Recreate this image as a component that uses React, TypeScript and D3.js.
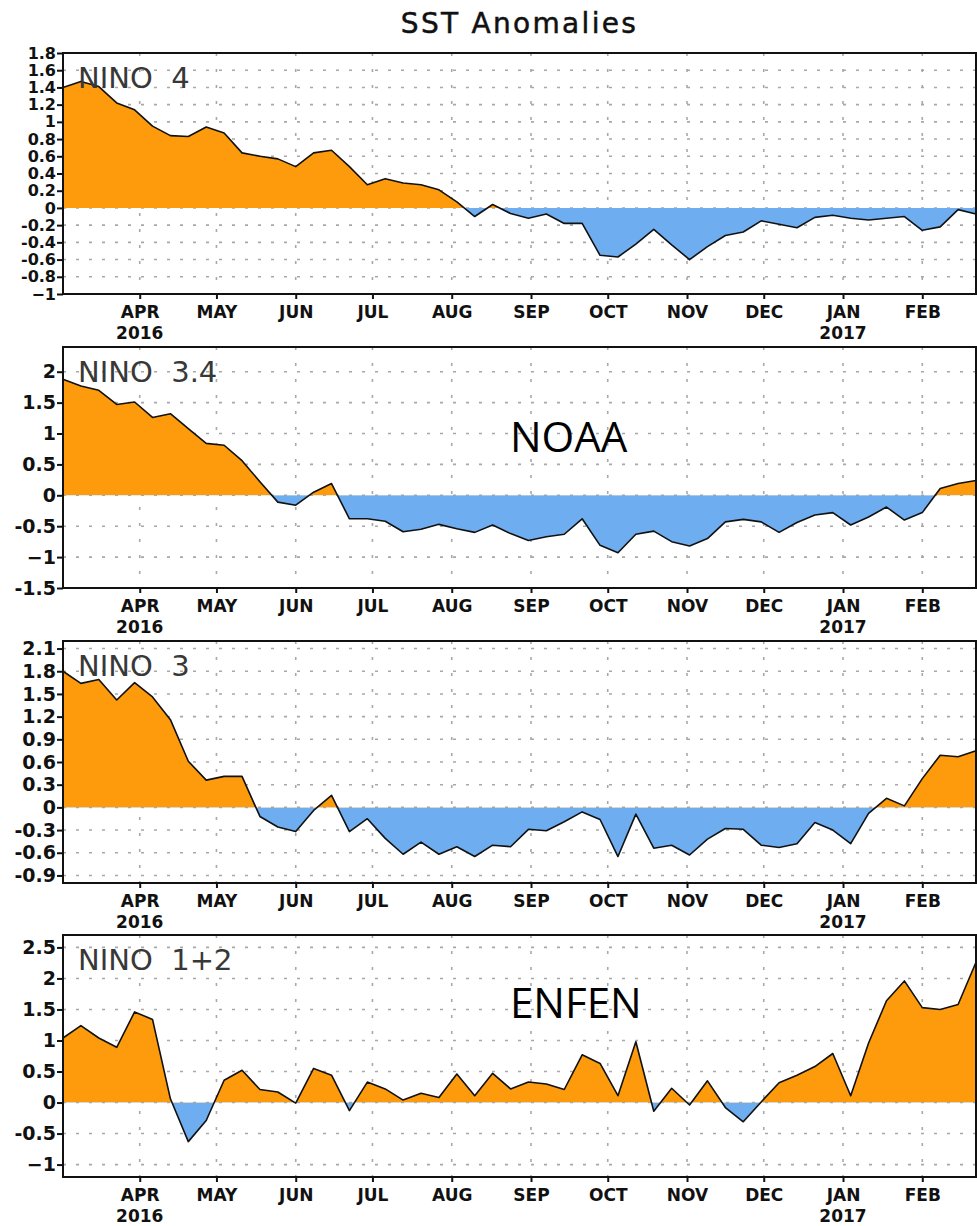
import React from "react";
import * as d3 from "d3";

// weekly SST anomalies (centred on Wednesdays), Mar 2 2016 -> Feb 22 2017
const firstWeek = new Date(2016, 2, 2);
const lastWeek = new Date(2017, 1, 22);

const nino4 = [
  1.4, 1.47, 1.41, 1.22, 1.14, 0.95, 0.84, 0.83, 0.94, 0.87,
  0.64, 0.6, 0.57, 0.48, 0.64, 0.67, 0.48, 0.27, 0.34, 0.29,
  0.27, 0.21, 0.07, -0.1, 0.04, -0.065, -0.12, -0.07, -0.18, -0.18,
  -0.55, -0.57, -0.42, -0.25, -0.43, -0.6, -0.45, -0.32, -0.28, -0.15,
  -0.19, -0.23, -0.11, -0.085, -0.12, -0.14, -0.12, -0.1, -0.26, -0.22,
  -0.02, -0.07,
];
const nino34 = [
  1.88, 1.77, 1.7, 1.47, 1.51, 1.26, 1.32, 1.08, 0.84, 0.81,
  0.56, 0.22, -0.11, -0.16, 0.05, 0.19, -0.38, -0.38, -0.42, -0.59,
  -0.55, -0.47, -0.54, -0.6, -0.48, -0.62, -0.73, -0.67, -0.63, -0.38,
  -0.81, -0.93, -0.63, -0.58, -0.75, -0.82, -0.7, -0.43, -0.39, -0.43,
  -0.6, -0.44, -0.32, -0.28, -0.48, -0.35, -0.19, -0.4, -0.28, 0.11,
  0.19, 0.24,
];
const nino3 = [
  1.8, 1.64, 1.69, 1.42, 1.65, 1.46, 1.16, 0.61, 0.36, 0.41,
  0.41, -0.12, -0.26, -0.32, -0.04, 0.16, -0.32, -0.15, -0.41, -0.62,
  -0.46, -0.62, -0.52, -0.65, -0.5, -0.52, -0.29, -0.31, -0.19, -0.06,
  -0.16, -0.65, -0.09, -0.54, -0.5, -0.63, -0.42, -0.28, -0.29, -0.5,
  -0.53, -0.48, -0.2, -0.3, -0.48, -0.08, 0.12, 0.02, 0.38, 0.69,
  0.67, 0.75,
];
const nino12 = [
  1.04, 1.24, 1.04, 0.89, 1.46, 1.34, 0.06, -0.63, -0.29, 0.36,
  0.52, 0.21, 0.17, -0.01, 0.55, 0.44, -0.13, 0.33, 0.22, 0.04,
  0.15, 0.08, 0.46, 0.11, 0.47, 0.22, 0.33, 0.3, 0.21, 0.77,
  0.63, 0.11, 0.98, -0.14, 0.23, -0.04, 0.35, -0.08, -0.31, 0.01,
  0.32, 0.44, 0.58, 0.79, 0.11, 0.96, 1.64, 1.96, 1.53, 1.5,
  1.58, 2.26,
];

const nino4Ticks = [1.8, 1.6, 1.4, 1.2, 1, 0.8, 0.6, 0.4, 0.2, 0, -0.2, -0.4, -0.6, -0.8, -1];
const nino4Labels = ["1.8", "1.6", "1.4", "1.2", "1", "0.8", "0.6", "0.4", "0.2", "0", "-0.2", "-0.4", "-0.6", "-0.8", "\u22121"];
const nino34Ticks = [2, 1.5, 1, 0.5, 0, -0.5, -1, -1.5];
const nino34Labels = ["2", "1.5", "1", "0.5", "0", "-0.5", "\u22121", "-1.5"];
const nino3Ticks = [2.1, 1.8, 1.5, 1.2, 0.9, 0.6, 0.3, 0, -0.3, -0.6, -0.9];
const nino3Labels = ["2.1", "1.8", "1.5", "1.2", "0.9", "0.6", "0.3", "0", "-0.3", "-0.6", "-0.9"];
const nino12Ticks = [2.5, 2, 1.5, 1, 0.5, 0, -0.5, -1];
const nino12Labels = ["2.5", "2", "1.5", "1", "0.5", "0", "-0.5", "\u22121"];

const monthLabels = ["APR", "MAY", "JUN", "JUL", "AUG", "SEP", "OCT", "NOV", "DEC", "JAN", "FEB"];
const yearLabels = [
  { month: "APR", year: "2016" },
  { month: "JAN", year: "2017" },
];

const panels = [
  { id: "n4", name: "NINO  4", values: nino4, domain: [-1, 1.8], ticks: nino4Ticks, labels: nino4Labels, top: 53, bottom: 294, tickFont: 16, stamp: "" },
  { id: "n34", name: "NINO  3.4", values: nino34, domain: [-1.5, 2.4], ticks: nino34Ticks, labels: nino34Labels, top: 347, bottom: 588, tickFont: 19, stamp: "NOAA" },
  { id: "n3", name: "NINO  3", values: nino3, domain: [-1, 2.2], ticks: nino3Ticks, labels: nino3Labels, top: 641, bottom: 883, tickFont: 19, stamp: "" },
  { id: "n12", name: "NINO  1+2", values: nino12, domain: [-1.2, 2.7], ticks: nino12Ticks, labels: nino12Labels, top: 935, bottom: 1177, tickFont: 19, stamp: "ENFEN" },
];

const ORANGE = "#fe9b0c";
const BLUE = "#6dadf0";

const SstAnomalies = () => {
  const svgRef = React.useRef<SVGSVGElement>(null);
  const width = 977;
  const height = 1226;
  const left = 63;
  const right = 976;

  React.useEffect(() => {
    const svg = d3.select(svgRef.current);
    svg.selectAll("*").remove();

    const weeks = nino4.map((_, i) => d3.timeDay.offset(firstWeek, 7 * i));
    const months = d3.timeMonth.range(new Date(2016, 3, 1), new Date(2017, 2, 1));
    const x = d3.scaleTime().domain([firstWeek, lastWeek]).range([left, right]);

    // title
    svg
      .append("text")
      .attr("x", (left + right) / 2)
      .attr("y", 33)
      .attr("text-anchor", "middle")
      .style("font-family", "DejaVu Sans")
      .style("font-size", "28px")
      .style("letter-spacing", "2.3px")
      .style("fill", "#111")
      .style("stroke", "#111")
      .style("stroke-width", 0.5)
      .text("SST Anomalies");

    const defs = svg.append("defs");

    panels.forEach((p) => {
      const y = d3.scaleLinear().domain(p.domain).range([p.bottom, p.top]);
      const g = svg.append("g");
      const y0 = y(0);

      // grid
      g.selectAll("hgrid")
        .data(p.ticks)
        .enter()
        .append("line")
        .attr("x1", left)
        .attr("x2", right)
        .attr("y1", (d) => y(d))
        .attr("y2", (d) => y(d))
        .style("stroke", "#a8a8a8")
        .style("stroke-width", 1.6)
        .style("stroke-dasharray", "3,10");
      g.selectAll("vgrid")
        .data(months)
        .enter()
        .append("line")
        .attr("x1", (d) => x(d))
        .attr("x2", (d) => x(d))
        .attr("y1", p.top)
        .attr("y2", p.bottom)
        .style("stroke", "#a8a8a8")
        .style("stroke-width", 1.6)
        .style("stroke-dasharray", "3,13");

      // clip areas above / below zero
      defs
        .append("clipPath")
        .attr("id", `pos-${p.id}`)
        .append("rect")
        .attr("x", left)
        .attr("y", p.top)
        .attr("width", right - left)
        .attr("height", y0 - p.top);
      defs
        .append("clipPath")
        .attr("id", `neg-${p.id}`)
        .append("rect")
        .attr("x", left)
        .attr("y", y0)
        .attr("width", right - left)
        .attr("height", p.bottom - y0);

      const area = d3
        .area<number>()
        .x((_, i) => x(weeks[i]))
        .y0(y0)
        .y1((d) => y(d));
      const line = d3
        .line<number>()
        .x((_, i) => x(weeks[i]))
        .y((d) => y(d));

      g.append("path")
        .attr("d", area(p.values))
        .attr("clip-path", `url(#pos-${p.id})`)
        .style("fill", ORANGE);
      g.append("path")
        .attr("d", area(p.values))
        .attr("clip-path", `url(#neg-${p.id})`)
        .style("fill", BLUE);
      g.append("path")
        .attr("d", line(p.values))
        .style("fill", "none")
        .style("stroke", "#111")
        .style("stroke-width", 1.6)
        .style("stroke-linejoin", "round");

      // frame
      g.append("rect")
        .attr("x", left)
        .attr("y", p.top)
        .attr("width", right - left)
        .attr("height", p.bottom - p.top)
        .style("fill", "none")
        .style("stroke", "#111")
        .style("stroke-width", 2);

      // y axis
      const yAxis = d3
        .axisLeft(y)
        .tickValues(p.ticks)
        .tickSize(6)
        .tickFormat((_, i) => p.labels[i]);
      const ya = g.append("g").attr("transform", `translate(${left},0)`).call(yAxis);
      ya.select(".domain").remove();
      ya.selectAll("line").style("stroke", "#111").style("stroke-width", 2);
      ya.selectAll("text")
        .attr("x", -7)
        .style("font-family", "DejaVu Sans")
        .style("font-weight", "bold")
        .style("font-size", `${p.tickFont}px`)
        .style("fill", "#111");

      // x axis
      const xAxis = d3
        .axisBottom(x)
        .tickValues(months)
        .tickSize(5)
        .tickFormat((_, i) => monthLabels[i]);
      const xa = g.append("g").attr("transform", `translate(0,${p.bottom})`).call(xAxis);
      xa.select(".domain").remove();
      xa.selectAll("line").style("stroke", "#111").style("stroke-width", 2);
      xa.selectAll("text")
        .attr("y", 12)
        .style("font-family", "DejaVu Sans")
        .style("font-weight", "bold")
        .style("font-size", "17px")
        .style("fill", "#111");

      g.selectAll("years")
        .data(yearLabels)
        .enter()
        .append("text")
        .attr("x", (d) => x(months[monthLabels.indexOf(d.month)]))
        .attr("y", p.bottom + 45)
        .attr("text-anchor", "middle")
        .style("font-family", "DejaVu Sans")
        .style("font-weight", "bold")
        .style("font-size", "17px")
        .style("fill", "#111")
        .text((d) => d.year);

      // region name
      g.append("text")
        .attr("x", 78)
        .attr("y", p.top + 35)
        .style("font-family", "DejaVu Sans")
        .style("font-size", "29px")
        .style("fill", "#383838")
        .style("white-space", "pre")
        .text(p.name);

      if (p.stamp) {
        g.append("text")
          .attr("x", 510)
          .attr("y", p.id === "n34" ? 452 : 1018)
          .style("font-family", "Open Sans")
          .style("font-size", "42px")
          .style("fill", "#000")
          .text(p.stamp);
      }
    });
  }, []);

  return (
    <svg
      ref={svgRef}
      width={width}
      height={height}
      style={{ position: "absolute", left: 0, top: 0, background: "#fff" }}
    />
  );
};

export default function App() {
  return <SstAnomalies />;
}
